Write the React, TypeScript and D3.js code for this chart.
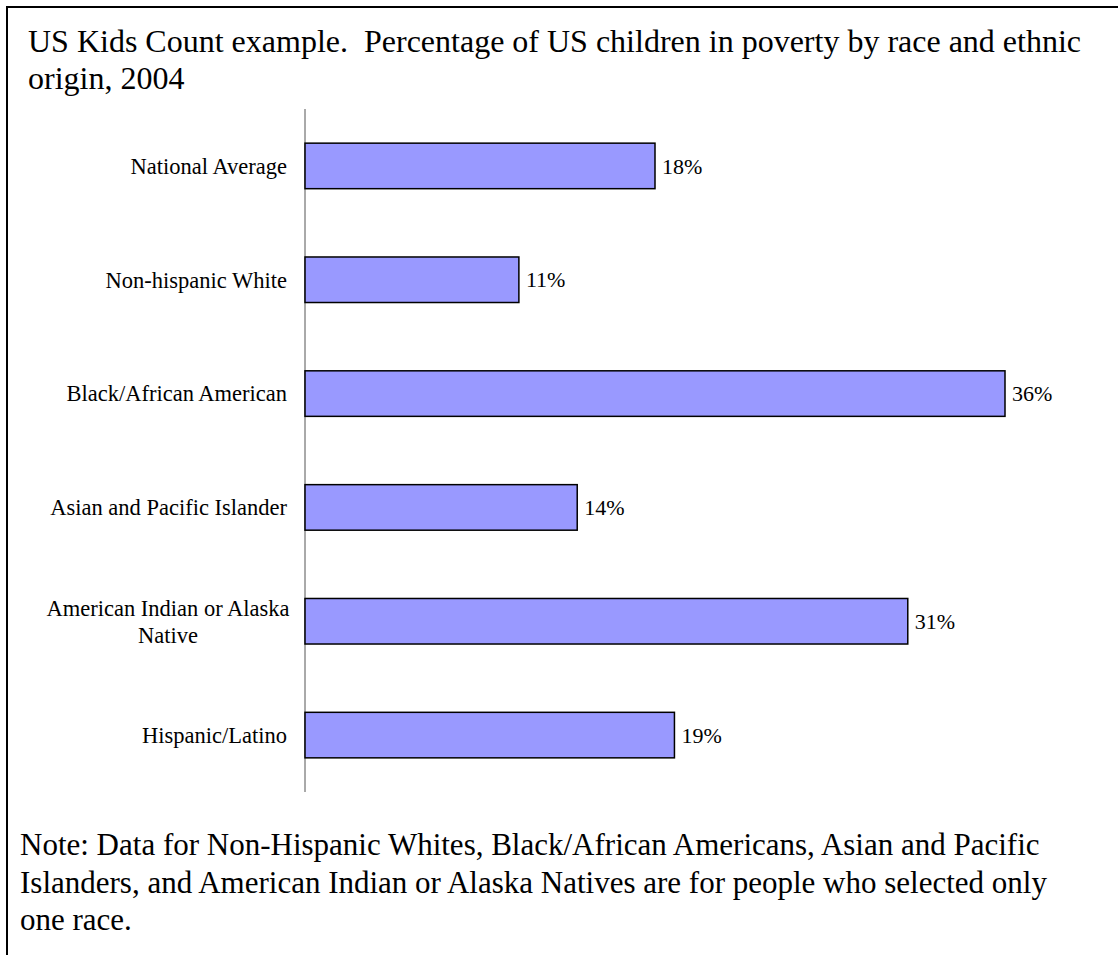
import React from "react";
import * as d3 from "d3";

const categories: string[][] = [
  ["National Average"],
  ["Non-hispanic White"],
  ["Black/African American"],
  ["Asian and Pacific Islander"],
  ["American Indian or Alaska", "Native"],
  ["Hispanic/Latino"],
];
const values: number[] = [18, 11, 36, 14, 31, 19];
const titleLines: string[] = [
  "US Kids Count example.  Percentage of US children in poverty by race and ethnic",
  "origin, 2004",
];
const noteLines: string[] = [
  "Note: Data for Non-Hispanic Whites, Black/African Americans, Asian and Pacific",
  "Islanders, and American Indian or Alaska Natives are for people who selected only",
  "one race.",
];

const W = 1118;
const H = 955;
const FONT = "'Liberation Serif', 'Times New Roman', serif";

export default function App() {
  const x0 = 305;
  const x = d3.scaleLinear().domain([0, 36]).range([x0, x0 + 700]);
  const y = d3
    .scaleBand<number>()
    .domain(values.map((_, i) => i))
    .range([109, 792])
    .paddingInner(0.6)
    .paddingOuter(0.3);

  return (
    <div style={{ position: "absolute", left: 0, top: 0 }}>
      <svg width={W} height={H} style={{ display: "block", background: "#fff" }}>
        <line x1={7} y1={7} x2={W} y2={7} stroke="#000" strokeWidth={2} />
        <line x1={7} y1={6} x2={7} y2={H} stroke="#000" strokeWidth={2} />
        {titleLines.map((t, i) => (
          <text
            key={i}
            x={28}
            y={52 + i * 37}
            fontFamily={FONT}
            fontSize={32}
            fill="#000"
            style={{ whiteSpace: "pre" }}
          >
            {t}
          </text>
        ))}
        <line x1={x0} y1={y.range()[0]} x2={x0} y2={y.range()[1]} stroke="#555" strokeWidth={1} />
        {values.map((v, i) => {
          const by = y(i)!;
          const bh = y.bandwidth();
          const cy = by + bh / 2;
          const lines = categories[i];
          return (
            <g key={i}>
              <rect
                x={x(0)}
                y={by}
                width={x(v) - x(0)}
                height={bh}
                fill="#9999FF"
                stroke="#000"
                strokeWidth={1.5}
              />
              <text
                x={x(v) + 7}
                y={cy}
                dy="0.35em"
                fontFamily={FONT}
                fontSize={22}
                fill="#000"
              >
                {v}%
              </text>
              {lines.length === 1 ? (
                <text
                  x={287}
                  y={cy}
                  dy="0.35em"
                  textAnchor="end"
                  fontFamily={FONT}
                  fontSize={22.5}
                  fill="#000"
                >
                  {lines[0]}
                </text>
              ) : (
                <text
                  x={168}
                  y={cy - 13.5}
                  textAnchor="middle"
                  fontFamily={FONT}
                  fontSize={22.5}
                  fill="#000"
                >
                  {lines.map((l, j) => (
                    <tspan key={j} x={168} dy={j === 0 ? "0.35em" : 27}>
                      {l}
                    </tspan>
                  ))}
                </text>
              )}
            </g>
          );
        })}
        {noteLines.map((t, i) => (
          <text key={i} x={20} y={855 + i * 37.5} fontFamily={FONT} fontSize={31} fill="#000">
            {t}
          </text>
        ))}
      </svg>
    </div>
  );
}
